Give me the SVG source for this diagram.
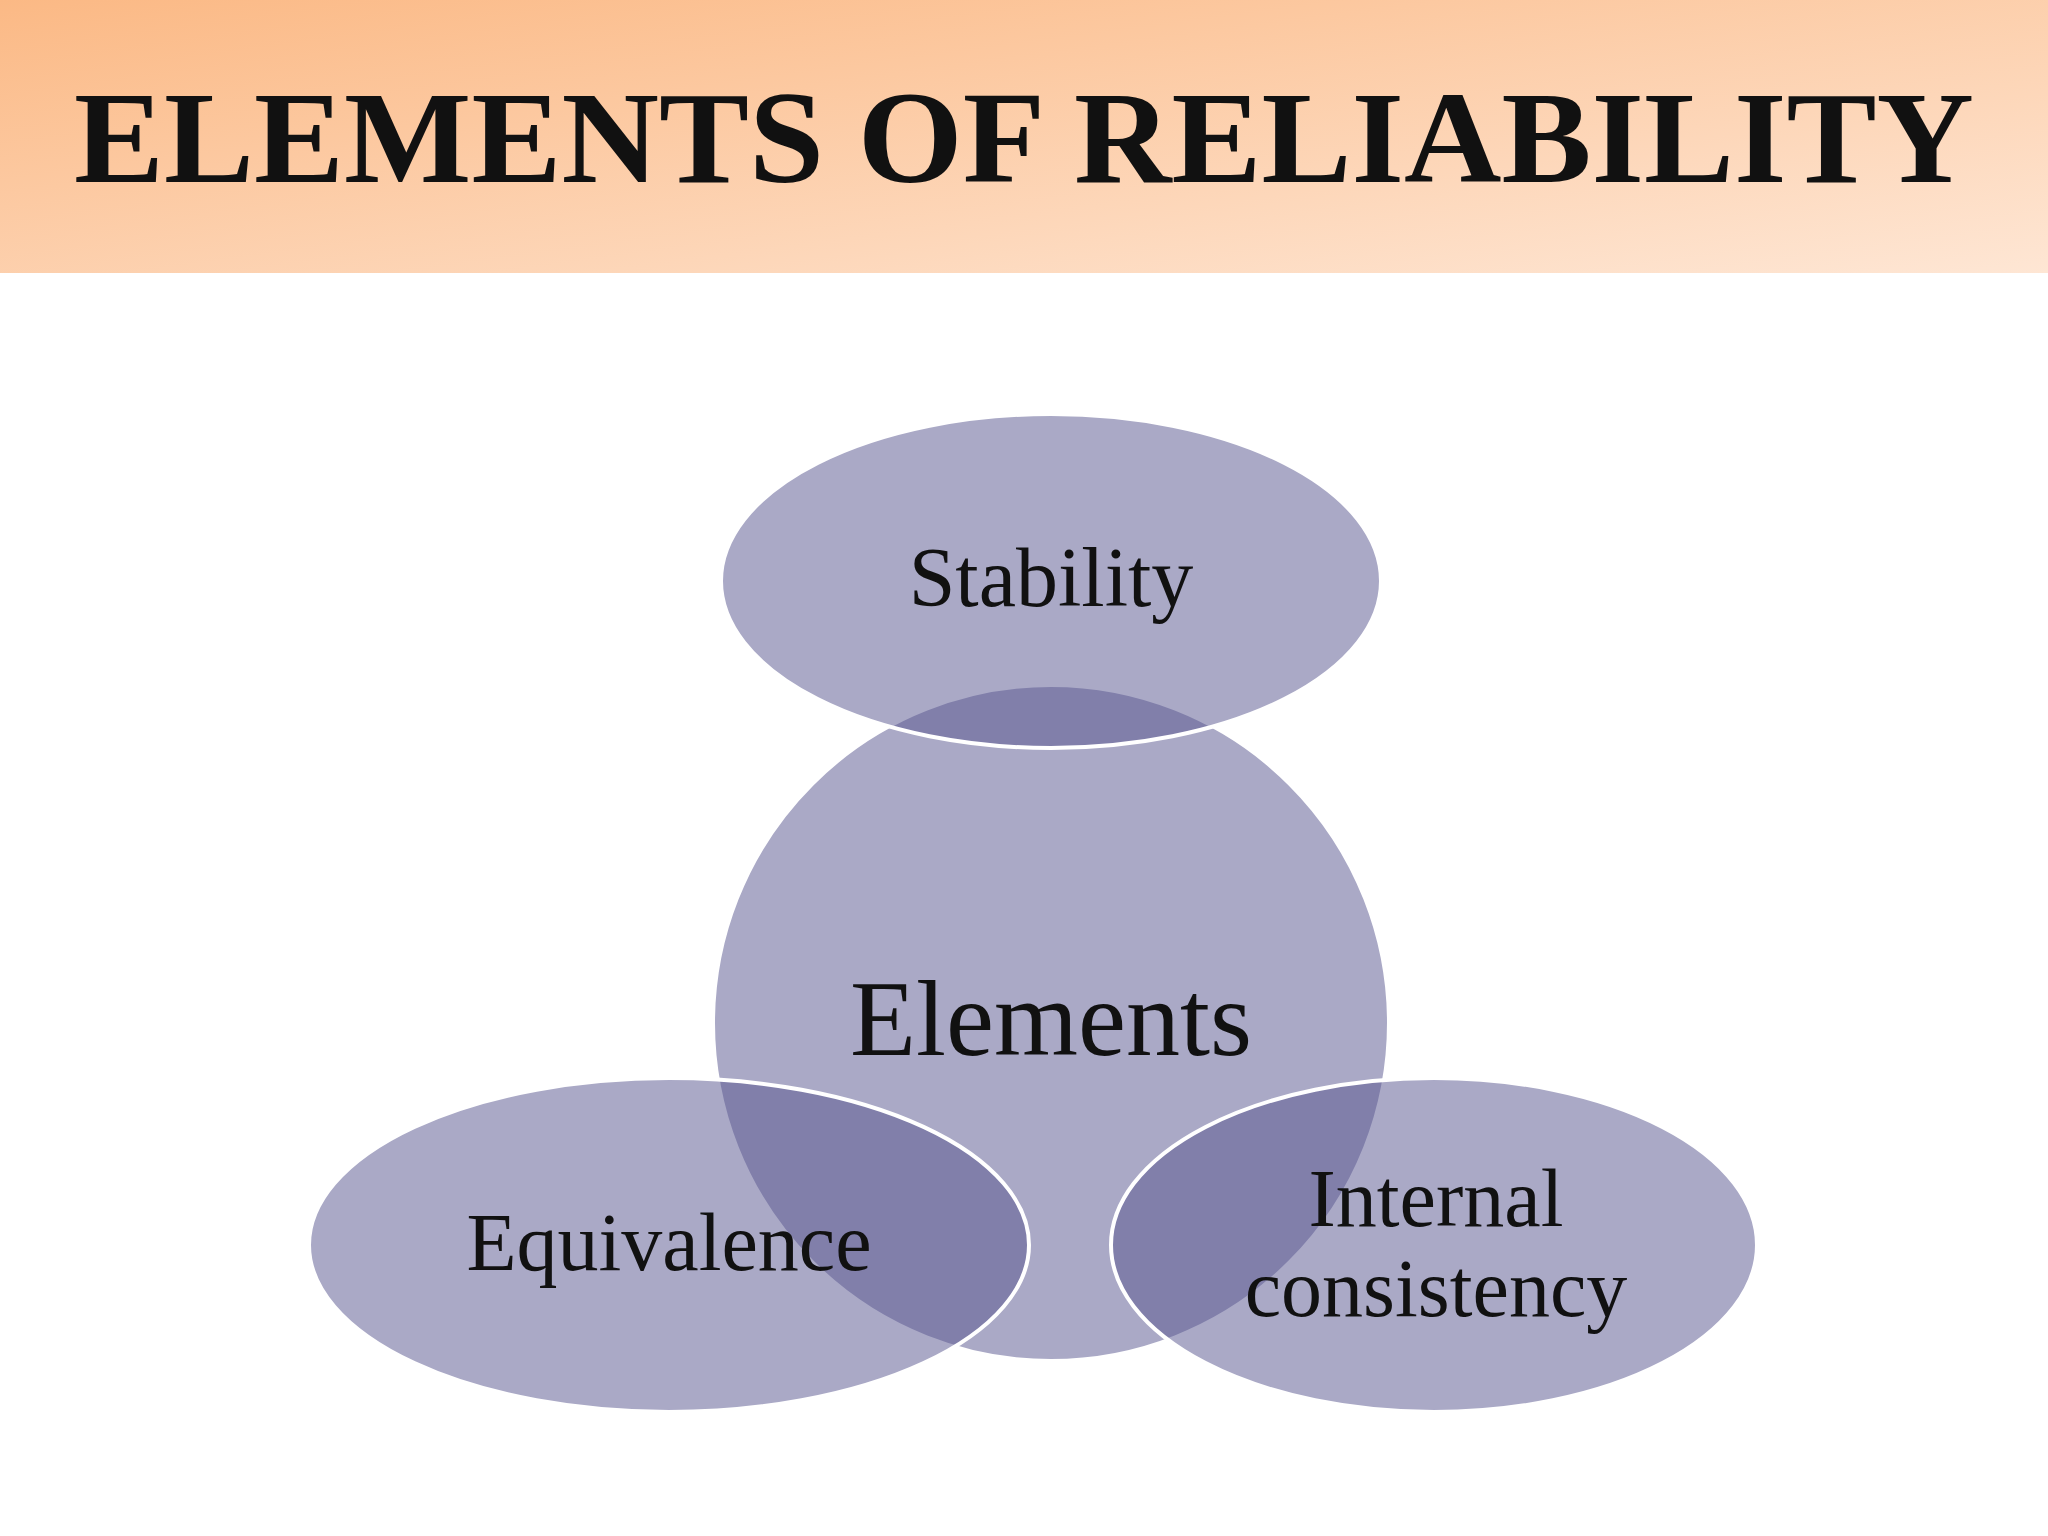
<svg xmlns="http://www.w3.org/2000/svg" width="2048" height="1536" viewBox="0 0 2048 1536">
<defs>
<linearGradient id="hdr" x1="0" y1="0" x2="1" y2="1">
<stop offset="0" stop-color="#fbb985"/><stop offset="1" stop-color="#fee6d4"/>
</linearGradient>
</defs>
<style>
.s{fill:rgb(91,89,145);fill-opacity:0.518;stroke:#fff;stroke-width:4}
.t{font-family:"Liberation Serif","DejaVu Serif",serif;fill:#111;text-anchor:middle}
</style>
<rect width="2048" height="1536" fill="#fff"/>
<rect width="2048" height="273" fill="url(#hdr)"/>
<text class="t" x="1024" y="182" font-size="132" font-weight="bold" textLength="1900" lengthAdjust="spacingAndGlyphs">ELEMENTS OF RELIABILITY</text>
<g id="elements"><circle class="s" cx="1051" cy="1023" r="338"/><text class="t" x="1051" y="1055" font-size="108">Elements</text></g>
<g id="stability"><ellipse class="s" cx="1051" cy="581" rx="330" ry="167"/><text class="t" x="1051" y="606" font-size="84">Stability</text></g>
<g id="equivalence"><ellipse class="s" cx="669" cy="1245" rx="360" ry="167"/><text class="t" x="669" y="1270" font-size="82">Equivalence</text></g>
<g id="internal"><ellipse class="s" cx="1434" cy="1245" rx="323" ry="167"/><text class="t" x="1436" y="1226" font-size="82">Internal</text><text class="t" x="1436" y="1316" font-size="82">consistency</text></g>
<g id="connectors"/>
</svg>
